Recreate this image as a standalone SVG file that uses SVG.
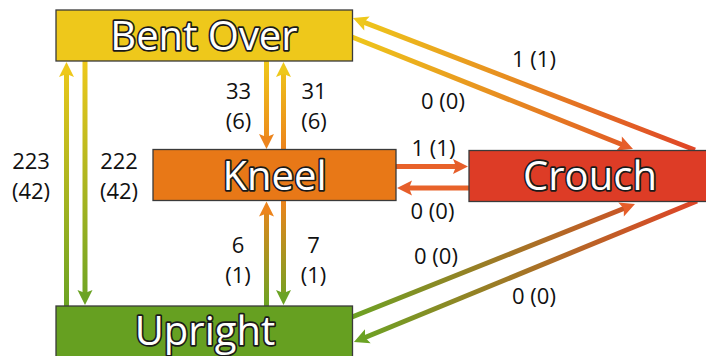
<svg xmlns="http://www.w3.org/2000/svg" width="706" height="356" viewBox="0 0 706 356">
  <style>
    .box { stroke: #3a3a3a; stroke-width: 1.3; }
    .name { font-family: "Open Sans", "Liberation Sans", sans-serif; font-size: 40px; fill: #ffffff; stroke: #1a1a1a; stroke-width: 3.4; stroke-linejoin: round; paint-order: stroke fill; text-anchor: middle; }
    .lbl { font-family: "Open Sans", "Liberation Sans", sans-serif; font-size: 22px; fill: #111111; text-anchor: middle; }
    .edge { fill: none; stroke-width: 5; }
  </style>
  <defs>
    <!-- arrowheads: origin sits 10px behind the tip -->
    <marker id="aY" markerUnits="userSpaceOnUse" orient="auto" overflow="visible" refX="0" refY="0" markerWidth="1" markerHeight="1">
      <path d="M10,0 L-5,-7.5 L-2,0 L-5,7.5 Z" fill="#EEC81B"/>
    </marker>
    <marker id="aO" markerUnits="userSpaceOnUse" orient="auto" overflow="visible" refX="0" refY="0" markerWidth="1" markerHeight="1">
      <path d="M10,0 L-5,-7.5 L-2,0 L-5,7.5 Z" fill="#EC841C"/>
    </marker>
    <marker id="aR" markerUnits="userSpaceOnUse" orient="auto" overflow="visible" refX="0" refY="0" markerWidth="1" markerHeight="1">
      <path d="M10,0 L-5,-7.5 L-2,0 L-5,7.5 Z" fill="#E65E2A"/>
    </marker>
    <marker id="aG" markerUnits="userSpaceOnUse" orient="auto" overflow="visible" refX="0" refY="0" markerWidth="1" markerHeight="1">
      <path d="M10,0 L-5,-7.5 L-2,0 L-5,7.5 Z" fill="#6BA324"/>
    </marker>
    <linearGradient id="gBoUp" gradientUnits="userSpaceOnUse" x1="0" y1="61" x2="0" y2="306">
      <stop offset="0" stop-color="#EEC81B"/>
      <stop offset="1" stop-color="#6BA324"/>
    </linearGradient>
    <linearGradient id="gBoKn" gradientUnits="userSpaceOnUse" x1="0" y1="61" x2="0" y2="149">
      <stop offset="0" stop-color="#EEC81B"/>
      <stop offset="1" stop-color="#EC841C"/>
    </linearGradient>
    <linearGradient id="gKnUp" gradientUnits="userSpaceOnUse" x1="0" y1="201" x2="0" y2="306">
      <stop offset="0" stop-color="#EC841C"/>
      <stop offset="1" stop-color="#6BA324"/>
    </linearGradient>
    <linearGradient id="gBoCr" gradientUnits="userSpaceOnUse" x1="352" y1="28" x2="697" y2="150">
      <stop offset="0" stop-color="#EEC81B"/>
      <stop offset="1" stop-color="#DF4427"/>
    </linearGradient>
    <linearGradient id="gUpCr" gradientUnits="userSpaceOnUse" x1="352" y1="330" x2="697" y2="201">
      <stop offset="0" stop-color="#6BA324"/>
      <stop offset="1" stop-color="#DF4427"/>
    </linearGradient>
  </defs>

  <g id="connectors">
    <!-- Upright <-> Bent Over -->
    <line class="edge" x1="66.5" y1="306" x2="66.5" y2="72" stroke="url(#gBoUp)" marker-end="url(#aY)"/>
    <line class="edge" x1="85" y1="61" x2="85" y2="295" stroke="url(#gBoUp)" marker-end="url(#aG)"/>
    <!-- Bent Over <-> Kneel -->
    <line class="edge" x1="266.5" y1="61" x2="266.5" y2="139" stroke="url(#gBoKn)" marker-end="url(#aO)"/>
    <line class="edge" x1="283.5" y1="149" x2="283.5" y2="72" stroke="url(#gBoKn)" marker-end="url(#aY)"/>
    <!-- Kneel <-> Upright -->
    <line class="edge" x1="266.5" y1="306" x2="266.5" y2="211.5" stroke="url(#gKnUp)" marker-end="url(#aO)"/>
    <line class="edge" x1="283.5" y1="201" x2="283.5" y2="295" stroke="url(#gKnUp)" marker-end="url(#aG)"/>
    <!-- Kneel <-> Crouch -->
    <line class="edge" x1="396" y1="166.5" x2="458" y2="166.5" stroke="#E8622A" marker-end="url(#aR)"/>
    <line class="edge" x1="469" y1="188" x2="407" y2="188" stroke="#E8622A" marker-end="url(#aR)"/>
    <!-- Bent Over <-> Crouch -->
    <line class="edge" x1="695" y1="150" x2="362.3" y2="21.6" stroke="url(#gBoCr)" marker-end="url(#aY)"/>
    <line class="edge" x1="352" y1="37" x2="623.7" y2="145.3" stroke="url(#gBoCr)" marker-end="url(#aR)"/>
    <!-- Upright <-> Crouch -->
    <line class="edge" x1="352" y1="317" x2="625.7" y2="207.7" stroke="url(#gUpCr)" marker-end="url(#aR)"/>
    <line class="edge" x1="697" y1="201" x2="363.2" y2="338.2" stroke="url(#gUpCr)" marker-end="url(#aG)"/>
  </g>

  <g id="bent-over">
    <rect class="box" x="56" y="10" width="296.5" height="51" fill="#EEC81B"/>
    <text class="name" x="204" y="50">Bent Over</text>
  </g>
  <g id="kneel">
    <rect class="box" x="153" y="149.5" width="243" height="51" fill="#E87817"/>
    <text class="name" x="274.5" y="190">Kneel</text>
  </g>
  <g id="crouch">
    <rect class="box" x="469" y="150.5" width="245" height="51" fill="#DD3C26"/>
    <text class="name" x="590" y="190">Crouch</text>
  </g>
  <g id="upright">
    <rect class="box" x="56" y="306" width="296.5" height="60" fill="#66A021"/>
    <text class="name" x="205" y="345">Upright</text>
  </g>

  <g id="labels">
    <text class="lbl" x="31" y="169">223</text>
    <text class="lbl" x="31" y="199">(42)</text>
    <text class="lbl" x="119" y="169">222</text>
    <text class="lbl" x="119" y="199">(42)</text>
    <text class="lbl" x="238.5" y="99">33</text>
    <text class="lbl" x="238.5" y="129">(6)</text>
    <text class="lbl" x="314" y="99">31</text>
    <text class="lbl" x="314" y="129">(6)</text>
    <text class="lbl" x="238" y="253">6</text>
    <text class="lbl" x="238" y="283">(1)</text>
    <text class="lbl" x="313.5" y="253">7</text>
    <text class="lbl" x="313.5" y="283">(1)</text>
    <text class="lbl" x="534" y="67">1 (1)</text>
    <text class="lbl" x="443" y="109">0 (0)</text>
    <text class="lbl" x="433.5" y="156">1 (1)</text>
    <text class="lbl" x="432.5" y="219">0 (0)</text>
    <text class="lbl" x="436" y="264">0 (0)</text>
    <text class="lbl" x="534" y="304">0 (0)</text>
  </g>
</svg>
